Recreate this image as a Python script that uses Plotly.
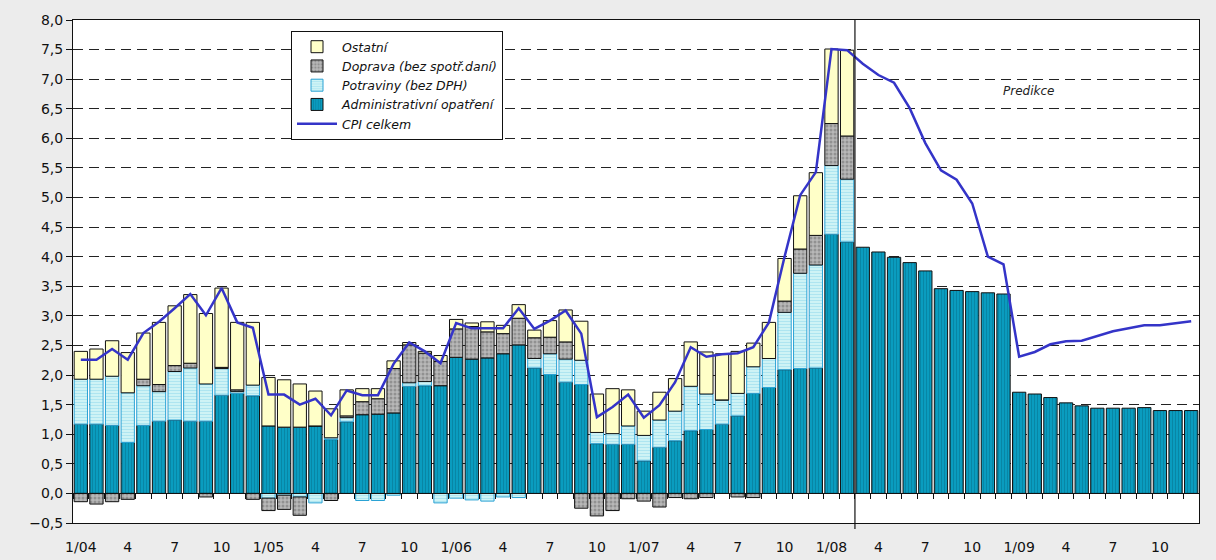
import plotly.graph_objects as go

# monthly data 1/2004 - 12/2009 (contributions to y/y CPI, p.b.)
tick_labels = ["1/04", "4", "7", "10", "1/05", "4", "7", "10", "1/06", "4", "7", "10",
               "1/07", "4", "7", "10", "1/08", "4", "7", "10", "1/09", "4", "7", "10"]

admin = [1.17, 1.17, 1.15, 0.86, 1.15, 1.22, 1.24, 1.22, 1.22, 1.66, 1.69, 1.65,
         1.14, 1.12, 1.12, 1.14, 0.91, 1.21, 1.33, 1.34, 1.36, 1.81, 1.82, 1.82,
         2.30, 2.27, 2.29, 2.36, 2.51, 2.12, 2.01, 1.88, 1.84, 0.84, 0.83, 0.83,
         0.55, 0.78, 0.89, 1.06, 1.08, 1.17, 1.31, 1.69, 1.79, 2.09, 2.11, 2.12,
         4.38, 4.25, 4.16, 4.08, 3.99, 3.90, 3.76, 3.46, 3.43, 3.41, 3.39, 3.37,
         1.71, 1.68, 1.62, 1.53, 1.48, 1.44, 1.44, 1.44, 1.45, 1.40, 1.40, 1.40]

potraviny = [0.76, 0.76, 0.83, 0.84, 0.67, 0.50, 0.82, 0.90, 0.63, 0.45, 0.03, 0.18,
             -0.08, -0.03, -0.06, -0.16, 0.03, 0.07, -0.12, -0.12, -0.03, 0.06, 0.07, -0.16,
             -0.08, -0.11, -0.13, -0.06, -0.07, 0.16, 0.35, 0.39, 0.41, 0.19, 0.18, 0.31,
             0.43, 0.46, 0.50, 0.75, 0.60, 0.41, 0.38, 0.45, 0.49, 0.97, 1.61, 1.74,
             1.16, 1.06]

doprava = [-0.14, -0.18, -0.14, -0.10, 0.11, 0.12, 0.10, 0.08, -0.06, 0.02, 0.03, -0.10,
           -0.21, -0.24, -0.31, 0.0, -0.12, 0.03, 0.22, 0.26, 0.75, 0.64, 0.48, 0.41,
           0.48, 0.55, 0.44, 0.34, 0.45, 0.35, 0.28, 0.29, -0.25, -0.38, -0.29, -0.09,
           -0.13, -0.23, -0.07, -0.09, -0.07, 0.0, -0.06, -0.07, 0.0, 0.19, 0.41, 0.50,
           0.71, 0.73]

ostatni = [0.47, 0.51, 0.60, 0.68, 0.78, 1.05, 1.01, 1.16, 1.19, 1.34, 1.14, 1.06,
           0.82, 0.80, 0.73, 0.59, 0.49, 0.44, 0.22, 0.17, 0.13, 0.04, 0.03, 0.10,
           0.16, 0.06, 0.17, 0.14, 0.23, 0.13, 0.28, 0.54, 0.66, 0.65, 0.76, 0.61,
           0.41, 0.47, 0.55, 0.75, 0.71, 0.78, 0.71, 0.40, 0.61, 0.72, 0.90, 1.06,
           1.26, 1.45]

cpi = [2.26, 2.26, 2.44, 2.26, 2.71, 2.90, 3.13, 3.37, 3.01, 3.47, 2.89, 2.80,
       1.67, 1.67, 1.50, 1.60, 1.32, 1.74, 1.66, 1.66, 2.19, 2.55, 2.40, 2.20,
       2.88, 2.79, 2.79, 2.79, 3.13, 2.78, 2.92, 3.09, 2.70, 1.29, 1.46, 1.67,
       1.28, 1.49, 1.88, 2.47, 2.31, 2.35, 2.37, 2.47, 2.89, 4.00, 5.04, 5.43,
       7.51, 7.49, 7.26, 7.07, 6.94, 6.51, 5.92, 5.46, 5.30, 4.90, 4.00, 3.87,
       2.31, 2.39, 2.52, 2.57, 2.58, 2.66, 2.74, 2.79, 2.84, 2.84, 2.88, 2.91]

n = len(admin)
x = list(range(n))
n_actual = len(ostatni)  # forecast starts after last actual month

font_main = "DejaVu Sans"
bar_w = 0.85
bg = "#ececec"

fig = go.Figure()

fig.add_trace(go.Bar(
    x=x, y=admin, name="Administrativní opatření", width=bar_w, legendrank=4,
    marker=dict(color="#0a9cbf", line=dict(color="#111111", width=1),
                pattern=dict(shape="|", fgcolor="#066f8c", bgcolor="#0a9cbf",
                             size=3, solidity=0.35)),
))
fig.add_trace(go.Bar(
    x=x[:n_actual], y=potraviny, name="Potraviny (bez DPH)", width=bar_w, legendrank=3,
    marker=dict(color="#c9f1f5", line=dict(color="#2aa2d4", width=1),
                pattern=dict(shape="-", fgcolor="#8ad6ea", bgcolor="#d2f4f6",
                             size=3, solidity=0.4)),
))
fig.add_trace(go.Bar(
    x=x[:n_actual], y=doprava, name="Doprava (bez spotř.daní)", width=bar_w, legendrank=2,
    marker=dict(color="#a8a8a8", line=dict(color="#111111", width=1),
                pattern=dict(shape=".", fgcolor="#6a6a6a", bgcolor="#b8b8b8",
                             size=4, solidity=0.45)),
))
fig.add_trace(go.Bar(
    x=x[:n_actual], y=ostatni, name="Ostatní", width=bar_w, legendrank=1,
    marker=dict(color="#ffffc8", line=dict(color="#111111", width=1)),
))
fig.add_trace(go.Scatter(
    x=x, y=cpi, name="CPI celkem", mode="lines", legendrank=5,
    line=dict(color="#3434c8", width=2.5),
))

# helper trace for the category axis drawn at zero
fig.add_trace(go.Scatter(
    x=[0], y=[0], xaxis="x2", mode="markers", marker=dict(opacity=0),
    showlegend=False, hoverinfo="skip",
))

y_min, y_max = -0.5, 8.0
zero_pos = (0 - y_min) / (y_max - y_min)

fig.add_shape(type="line", xref="x", yref="paper",
              x0=n_actual - 0.5, x1=n_actual - 0.5, y0=-0.012, y1=1,
              line=dict(color="#111111", width=1.2))

fig.add_annotation(x=60.6, y=6.8, text="Predikce", showarrow=False,
                   font=dict(family=font_main, size=12, color="#222222", style="italic"))

fig.update_layout(
    width=1216, height=560,
    margin=dict(l=73, r=17, t=20, b=37, autoexpand=False),
    paper_bgcolor=bg,
    plot_bgcolor="white",
    barmode="relative",
    bargap=0.15,
    separators=", ",
    font=dict(family=font_main, size=14, color="#111111"),
    showlegend=True,
    legend=dict(
        x=(291 - 73) / 1126, y=0.978, xanchor="left", yanchor="top",
        bgcolor="white", bordercolor="#111111", borderwidth=1,
        font=dict(family=font_main, size=12.5, style="italic"),
        itemwidth=40, tracegroupgap=0,
    ),
    xaxis=dict(
        range=[-0.5, n - 0.5], automargin=False,
        tickvals=list(range(0, n, 3)), ticktext=tick_labels,
        ticks="outside", ticklen=11, tickcolor="rgba(0,0,0,0)",
        showline=True, linecolor="#111111", linewidth=1, mirror=True,
        showgrid=False, zeroline=False,
        tickfont=dict(family=font_main, size=14),
    ),
    xaxis2=dict(
        overlaying="x", anchor="free", position=zero_pos, automargin=False,
        range=[-0.5, n - 0.5],
        tickvals=[i - 0.5 for i in range(n + 1)],
        ticks="outside", ticklen=5, tickcolor="#111111",
        showticklabels=False, showline=True, linecolor="#111111", linewidth=1,
        showgrid=False, zeroline=False,
    ),
    yaxis=dict(
        range=[y_min, y_max], dtick=0.5, tickformat=".1f", automargin=False,
        ticks="outside", ticklen=6, tickcolor="#111111",
        showline=True, linecolor="#111111", linewidth=1, mirror=True,
        showgrid=True, gridcolor="#222222", gridwidth=1, griddash="10px,6px",
        zeroline=False,
        tickfont=dict(family=font_main, size=14),
    ),
)

# drop the default page margin so the figure sits at the window's corner
fig.write_html(
    "out.html",
    config={"displayModeBar": False},
    post_script="document.body.style.margin='0';document.body.style.background='" + bg + "';",
)
